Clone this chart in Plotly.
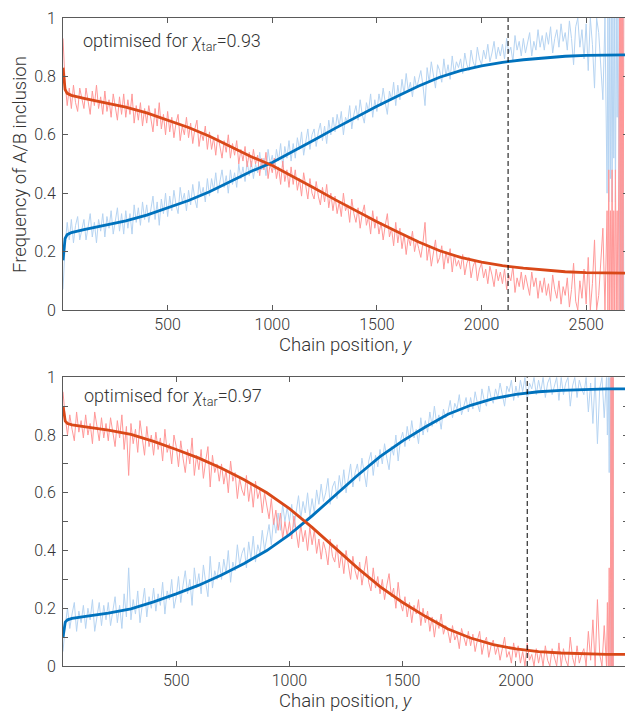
import plotly.graph_objects as go

# ---------------- data ----------------
# Noisy per-position frequencies (percent), sampled every 10 chain positions
top_noisy_x_main = list(range(0, 2600, 10))
top_noisy_x_tail = [2600, 2604, 2608, 2612, 2616, 2620, 2624, 2628, 2632, 2636, 2640, 2644, 2648,
                    2652, 2656, 2660, 2662, 2664, 2666, 2668, 2670, 2672, 2674, 2676, 2678, 2680]

top_blue_noisy = [
    7, 22, 30, 24, 31, 23, 29, 32, 24, 28,
    31, 24, 29, 33, 25, 30, 23, 31, 27, 33,
    25, 32, 28, 34, 26, 31, 35, 27, 33, 26,
    34, 28, 33, 26, 36, 30, 35, 29, 37, 31,
    36, 30, 35, 39, 31, 37, 29, 38, 33, 40,
    32, 39, 34, 41, 36, 33, 42, 37, 40, 34,
    41, 36, 43, 38, 35, 44, 39, 42, 37, 45,
    39, 45, 41, 47, 40, 44, 48, 42, 46, 40,
    48, 43, 47, 42, 50, 45, 49, 44, 51, 46,
    51, 45, 50, 47, 54, 48, 52, 46, 55, 50,
    53, 48, 55, 51, 57, 49, 56, 52, 58, 51,
    57, 52, 59, 55, 61, 53, 58, 62, 55, 60,
    62, 56, 61, 64, 58, 63, 57, 65, 60, 66,
    61, 67, 63, 68, 60, 66, 64, 70, 62, 67,
    70, 65, 72, 67, 64, 71, 68, 74, 66, 72,
    68, 74, 70, 76, 71, 67, 75, 72, 78, 70,
    77, 72, 79, 74, 81, 75, 78, 73, 80, 76,
    79, 82, 77, 70, 83, 78, 85, 80, 76, 84,
    82, 78, 86, 80, 84, 79, 87, 81, 85, 83,
    86, 81, 88, 84, 82, 89, 85, 83, 90, 86,
    84, 89, 86, 91, 85, 88, 92, 86, 90, 87,
    91, 86, 93, 88, 90, 85, 94, 89, 92, 87,
    93, 88, 91, 95, 87, 92, 89, 96, 90, 94,
    89, 95, 91, 97, 88, 93, 96, 90, 98, 92,
    95, 89, 99, 93, 84, 97, 100, 90, 96, 86,
    98, 82, 100, 91, 76, 100, 95, 84, 72, 100,
    40, 100, 37, 100, 45, 100, 37, 100, 52, 100, 37, 100, 66,
    100, 50, 0, 100, 0, 100, 0, 0, 100, 0, 100, 0, 0,
]
top_red_noisy = [
    93, 78, 70, 76, 69, 77, 71, 68, 76, 72,
    69, 76, 71, 67, 75, 70, 77, 69, 73, 67,
    75, 68, 72, 66, 74, 69, 65, 73, 67, 74,
    66, 72, 67, 74, 64, 70, 65, 71, 63, 69,
    64, 70, 65, 61, 69, 63, 71, 62, 67, 60,
    68, 61, 66, 59, 64, 67, 58, 63, 60, 66,
    59, 64, 57, 62, 65, 56, 61, 58, 63, 55,
    61, 55, 59, 53, 60, 56, 52, 58, 54, 60,
    52, 57, 53, 58, 50, 55, 51, 56, 49, 54,
    49, 55, 50, 53, 46, 52, 48, 54, 45, 50,
    47, 52, 45, 49, 43, 51, 44, 48, 42, 49,
    43, 48, 41, 45, 39, 47, 42, 38, 45, 40,
    38, 44, 39, 36, 42, 37, 43, 35, 40, 34,
    39, 33, 37, 32, 40, 34, 36, 30, 38, 33,
    30, 35, 28, 33, 36, 29, 32, 26, 34, 28,
    32, 26, 30, 24, 29, 33, 25, 28, 22, 30,
    23, 28, 21, 26, 19, 25, 22, 27, 20, 24,
    21, 18, 23, 30, 17, 22, 15, 20, 24, 16,
    18, 22, 14, 20, 16, 21, 13, 19, 15, 17,
    14, 19, 12, 16, 18, 11, 15, 17, 10, 14,
    16, 11, 14, 9, 15, 12, 8, 14, 10, 13,
    9, 14, 7, 12, 10, 15, 6, 11, 8, 13,
    7, 12, 9, 5, 13, 8, 11, 4, 10, 6,
    11, 5, 9, 3, 12, 7, 4, 10, 2, 8,
    5, 11, 1, 7, 16, 3, 0, 10, 4, 14,
    2, 18, 0, 9, 24, 0, 5, 16, 28, 0,
    34, 0, 48, 0, 34, 0, 48, 0, 34, 0, 48, 0, 34,
    0, 50, 100, 0, 100, 0, 100, 100, 0, 100, 0, 100, 100,
]

bot_noisy_x_main = list(range(0, 2400, 10))
bot_noisy_x_tail = [2400, 2404, 2408, 2412, 2415, 2418, 2420, 2421, 2422, 2423, 2424,
                    2425, 2426, 2427, 2428, 2429, 2430]

bot_blue_noisy = [
    5, 14, 20, 13, 18, 22, 12, 19, 15, 21,
    13, 20, 16, 23, 12, 18, 22, 14, 21, 16,
    22, 14, 19, 24, 15, 21, 13, 25, 17, 34,
    16, 23, 18, 26, 15, 22, 27, 17, 24, 20,
    27, 19, 25, 21, 29, 18, 26, 23, 30, 20,
    24, 31, 22, 28, 33, 25, 30, 21, 34, 27,
    32, 25, 35, 29, 24, 38, 27, 33, 30, 36,
    30, 37, 32, 40, 29, 36, 33, 42, 35, 39,
    41, 34, 43, 37, 45, 36, 42, 39, 47, 40,
    44, 49, 42, 51, 46, 53, 47, 56, 50, 55,
    50, 56, 48, 54, 59, 51, 57, 53, 60, 52,
    58, 53, 61, 56, 63, 57, 60, 65, 56, 62,
    64, 58, 66, 61, 68, 60, 65, 70, 62, 67,
    70, 64, 72, 67, 62, 71, 74, 66, 73, 69,
    75, 70, 77, 72, 68, 76, 73, 80, 71, 78,
    81, 76, 83, 78, 85, 79, 82, 77, 86, 80,
    85, 81, 88, 83, 90, 84, 87, 82, 89, 86,
    88, 92, 86, 91, 89, 94, 87, 90, 93, 88,
    93, 89, 95, 91, 88, 96, 92, 90, 97, 93,
    91, 96, 93, 98, 94, 90, 97, 95, 99, 92,
    97, 93, 99, 95, 100, 92, 98, 96, 100, 94,
    99, 95, 100, 93, 98, 100, 94, 97, 100, 92,
    100, 94, 98, 100, 90, 97, 100, 93, 99, 96,
    94, 100, 88, 98, 84, 100, 77, 96, 100, 86,
    100, 80, 100, 67, 100, 70, 0, 100, 0, 100, 0, 100, 0, 100, 0, 100, 0,
]
bot_red_noisy = [
    95, 86, 80, 87, 82, 78, 88, 81, 85, 79,
    87, 80, 84, 77, 88, 82, 78, 86, 79, 84,
    78, 86, 81, 76, 85, 79, 87, 75, 83, 66,
    84, 77, 82, 74, 85, 78, 73, 83, 76, 80,
    73, 81, 75, 79, 71, 82, 74, 77, 70, 80,
    76, 69, 78, 72, 67, 75, 70, 79, 66, 73,
    68, 75, 65, 71, 76, 62, 73, 67, 70, 64,
    70, 63, 68, 60, 71, 64, 67, 58, 65, 61,
    59, 66, 57, 63, 55, 64, 58, 61, 53, 60,
    56, 51, 58, 49, 54, 47, 53, 44, 50, 45,
    50, 44, 52, 46, 41, 49, 43, 47, 40, 48,
    42, 47, 39, 44, 37, 43, 40, 35, 44, 38,
    36, 42, 34, 39, 32, 40, 35, 30, 38, 33,
    30, 36, 28, 33, 38, 29, 26, 34, 27, 31,
    25, 30, 23, 28, 32, 24, 27, 20, 29, 22,
    19, 24, 17, 22, 15, 21, 18, 23, 14, 20,
    15, 19, 12, 17, 10, 16, 13, 18, 11, 14,
    12, 8, 14, 9, 11, 6, 13, 10, 7, 12,
    7, 11, 5, 9, 12, 4, 8, 10, 3, 7,
    9, 4, 7, 2, 6, 10, 3, 5, 1, 8,
    3, 7, 1, 5, 0, 8, 2, 4, 0, 6,
    1, 5, 0, 7, 2, 0, 6, 3, 0, 8,
    0, 6, 2, 0, 10, 3, 0, 7, 1, 4,
    6, 0, 12, 2, 16, 0, 23, 4, 0, 14,
    0, 22, 0, 34, 0, 30, 100, 0, 100, 0, 100, 0, 100, 0, 100, 0, 100,
]

# Smooth (model) curves
top_smooth_x = [0, 5, 10, 20, 40, 100, 200, 300, 400, 500, 600, 700, 800, 900, 1000, 1100, 1200,
                1300, 1400, 1500, 1600, 1700, 1800, 1900, 2000, 2100, 2200, 2300, 2400, 2500,
                2600, 2700]
top_blue_smooth = [0.17, 0.22, 0.245, 0.258, 0.265, 0.275, 0.29, 0.305, 0.325, 0.35, 0.375, 0.405,
                   0.44, 0.475, 0.505, 0.543, 0.582, 0.622, 0.661, 0.698, 0.733, 0.767, 0.797,
                   0.82, 0.836, 0.848, 0.857, 0.864, 0.869, 0.872, 0.874, 0.874]
top_red_smooth = [0.83, 0.78, 0.755, 0.742, 0.735, 0.725, 0.71, 0.695, 0.675, 0.65, 0.625, 0.595,
                  0.56, 0.525, 0.495, 0.457, 0.418, 0.378, 0.339, 0.302, 0.267, 0.233, 0.203,
                  0.18, 0.164, 0.152, 0.143, 0.136, 0.131, 0.128, 0.126, 0.126]

bot_smooth_x = [0, 5, 10, 20, 40, 100, 200, 300, 400, 500, 600, 700, 800, 900, 1000, 1100, 1200,
                1300, 1400, 1500, 1600, 1700, 1800, 1900, 2000, 2100, 2200, 2300, 2400, 2500]
bot_blue_smooth = [0.10, 0.135, 0.152, 0.16, 0.165, 0.172, 0.183, 0.198, 0.222, 0.25, 0.28, 0.315,
                   0.355, 0.40, 0.455, 0.52, 0.59, 0.66, 0.725, 0.78, 0.828, 0.872, 0.903, 0.926,
                   0.941, 0.95, 0.955, 0.958, 0.96, 0.96]
bot_red_smooth = [0.90, 0.865, 0.848, 0.84, 0.835, 0.828, 0.817, 0.802, 0.778, 0.75, 0.72, 0.685,
                  0.645, 0.60, 0.545, 0.48, 0.41, 0.34, 0.275, 0.22, 0.172, 0.128, 0.097, 0.074,
                  0.059, 0.05, 0.045, 0.042, 0.04, 0.04]

top_threshold = 2127
bot_threshold = 2050
top_xmax = 2700
bot_xmax = 2495
chi_top = "0.93"
chi_bot = "0.97"

x_tickvals = [500, 1000, 1500, 2000, 2500]
y_tickvals = [0, 0.2, 0.4, 0.6, 0.8, 1]
y_ticktext = ["0", "0.2", "0.4", "0.6", "0.8", "1"]

# ---------------- styling ----------------
LIGHT_BLUE = "rgb(182,212,242)"
LIGHT_RED = "rgb(255,152,152)"
BLUE = "rgb(0,114,189)"
RED = "rgb(217,72,24)"
FONT = "Roboto"
TXT = "#333333"
AX = "#5a5a5a"

fig = go.Figure()


def pct(vals):
    return [v / 100 for v in vals]


panels = [
    ("x", "y", top_noisy_x_main + top_noisy_x_tail, top_blue_noisy, top_red_noisy,
     top_smooth_x, top_blue_smooth, top_red_smooth),
    ("x2", "y2", bot_noisy_x_main + bot_noisy_x_tail, bot_blue_noisy, bot_red_noisy,
     bot_smooth_x, bot_blue_smooth, bot_red_smooth),
]
for xa, ya, nx, bn, rn, sx, bs, rs in panels:
    fig.add_trace(go.Scatter(x=nx, y=pct(bn), mode="lines", xaxis=xa, yaxis=ya,
                             line=dict(color=LIGHT_BLUE, width=1), hoverinfo="skip"))
    fig.add_trace(go.Scatter(x=nx, y=pct(rn), mode="lines", xaxis=xa, yaxis=ya,
                             line=dict(color=LIGHT_RED, width=1), hoverinfo="skip"))
    fig.add_trace(go.Scatter(x=sx, y=bs, mode="lines", xaxis=xa, yaxis=ya,
                             line=dict(color=BLUE, width=2.8)))
    fig.add_trace(go.Scatter(x=sx, y=rs, mode="lines", xaxis=xa, yaxis=ya,
                             line=dict(color=RED, width=2.8)))

for xref, thr in (("x", top_threshold), ("x2", bot_threshold)):
    yref = "y domain" if xref == "x" else "y2 domain"
    fig.add_shape(type="line", xref=xref, yref=yref, x0=thr, x1=thr, y0=0, y1=1,
                  line=dict(color="black", width=1, dash="5px,3px"))

tickfont = dict(family=FONT, size=16, color=TXT, weight=300)
titlefont = dict(family=FONT, size=18.5, color=TXT, weight=300)

xcommon = dict(showgrid=False, zeroline=False, showline=True, linecolor=AX, linewidth=1,
               mirror="ticks", ticks="inside", ticklen=5, tickcolor=AX, tickvals=x_tickvals,
               tickfont=tickfont, ticklabelstandoff=0, automargin=False)
ycommon = dict(showgrid=False, zeroline=False, showline=True, linecolor=AX, linewidth=1,
               mirror="ticks", ticks="inside", ticklen=5, tickcolor=AX, range=[0, 1],
               tickvals=y_tickvals, ticktext=y_ticktext, tickfont=tickfont, ticklabelstandoff=3,
               automargin=False)

# The page body adds an 8px offset, so the figure is sized to the remaining window area.
fig.update_layout(
    width=625, height=706,
    margin=dict(l=55, r=5, t=10, b=48),
    paper_bgcolor="white", plot_bgcolor="white",
    showlegend=False,
    xaxis=dict(domain=[0, 1], anchor="y", range=[0, top_xmax], **xcommon),
    yaxis=dict(domain=[0.5494, 1], anchor="x", **ycommon),
    xaxis2=dict(domain=[0, 1], anchor="y2", range=[0, bot_xmax], **xcommon),
    yaxis2=dict(domain=[0, 0.4455], anchor="x2",
                minor=dict(dtick=0.1, tick0=0, ticks="inside", ticklen=5, tickcolor=AX),
                **ycommon),
)

# axis titles
fig.add_annotation(xref="paper", yref="paper", x=0.5, y=0.4955, xanchor="center",
                   yanchor="middle", showarrow=False, text="Chain position, <i>y</i>",
                   font=titlefont)
fig.add_annotation(xref="paper", yref="paper", x=0.5, y=-0.054, xanchor="center",
                   yanchor="middle", showarrow=False, text="Chain position, <i>y</i>",
                   font=titlefont)
fig.add_annotation(xref="paper", yref="paper", x=-0.0761, y=0.7731, xanchor="center",
                   yanchor="middle", showarrow=False, textangle=-90,
                   text="Frequency of A/B inclusion", font=titlefont)

for xref, yref, chi in (("x domain", "y", chi_top), ("x2 domain", "y2", chi_bot)):
    fig.add_annotation(
        xref=xref, yref=yref, x=0.031 if xref == "x domain" else 0.034,
        y=0.919 if yref == "y" else 0.932, xanchor="left", yanchor="middle", showarrow=False,
        text=f"optimised for <i>χ</i><sub>tar</sub>={chi}",
        font=dict(family=FONT, size=18, color=TXT, weight=300),
    )

fig.write_html("out.html")
